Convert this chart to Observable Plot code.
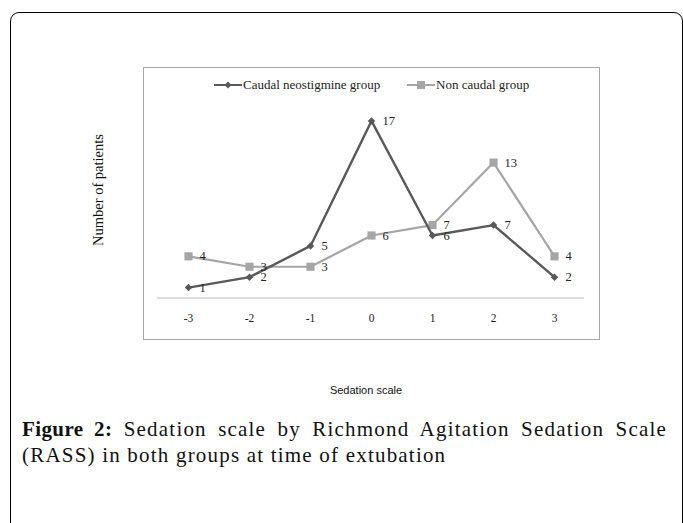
<!DOCTYPE html>
<html>
<head>
<meta charset="utf-8">
<script src="https://cdn.jsdelivr.net/npm/d3@7"></script>
<script src="https://cdn.jsdelivr.net/npm/@observablehq/plot@0.6"></script>
<style>
  html, body { margin: 0; padding: 0; background: #fff; width: 683px; height: 523px; overflow: hidden; position: relative; }
  #outer { position: absolute; left: 10px; top: 12px; width: 673px; height: 530px; border: 1.5px solid #000; border-radius: 9px; box-sizing: border-box; }
  #frame { position: absolute; left: 143px; top: 67px; width: 457px; height: 273px; border: 1.5px solid #a6a6a6; box-sizing: border-box; }
  #chart { position: absolute; left: 0; top: 0; }
  .lg { position: absolute; top: 76px; font-family: "Liberation Serif", serif; font-size: 13px; color: #222; display: flex; align-items: center; white-space: nowrap; }
  #ytitle { position: absolute; left: 98px; top: 190px; transform: translate(-50%, -50%) rotate(-90deg); font-family: "Liberation Serif", serif; font-size: 14.5px; color: #111; white-space: nowrap; }
  #xtitle { position: absolute; left: 366px; top: 390px; transform: translate(-50%, -50%); font-family: "Liberation Sans", Arial, sans-serif; font-size: 11px; color: #111; white-space: nowrap; }
  #caption { position: absolute; left: 22px; top: 416px; width: 645px; font-family: "Liberation Serif", serif; font-size: 21px; line-height: 26px; letter-spacing: 1.2px; text-align: justify; color: #111; }
  #caption b { font-weight: bold; letter-spacing: 0.4px; }
</style>
</head>
<body>
<div id="outer"></div>
<div id="frame"></div>
<div id="chart"></div>
<div id="ytitle"></div>
<div id="xtitle"></div>
<div id="caption"></div>
<script>
const xTicks = [-3, -2, -1, 0, 1, 2, 3];
const caudal = [1, 2, 5, 17, 6, 7, 2];
const nonCaudal = [4, 3, 3, 6, 7, 13, 4];
const seriesNames = ["Caudal neostigmine group", "Non caudal group"];
const seriesColors = ["#595959", "#a6a6a6"];
const seriesSymbols = ["diamond2", "square"];
const yTitle = "Number of patients";
const xTitle = "Sedation scale";
const captionBold = "Figure 2:";
const captionText = " Sedation scale by Richmond Agitation Sedation Scale (RASS) in both groups at time of extubation";

const rows = [];
xTicks.forEach((x, i) => {
  rows.push({x, y: caudal[i], s: seriesNames[0]});
  rows.push({x, y: nonCaudal[i], s: seriesNames[1]});
});

const chart = Plot.plot({
  width: 683,
  height: 410,
  marginLeft: 157,
  marginRight: 99,
  marginTop: 110,
  marginBottom: 112.5,
  style: {background: "transparent", fontFamily: "Liberation Serif, serif", fontSize: "11px", color: "#222"},
  x: {type: "point", domain: xTicks, padding: 0.5, axis: null},
  y: {domain: [0, 18], axis: null},
  color: {domain: seriesNames, range: seriesColors},
  symbol: {domain: seriesNames, range: seriesSymbols},
  marks: [
    Plot.ruleY([0], {stroke: "#d4d4d4", strokeWidth: 1.5}),
    Plot.axisX({tickSize: 0, tickPadding: 16, fontSize: 11.5, label: null, fill: "#222"}),
    Plot.line(rows.filter(d => d.s === seriesNames[1]), {x: "x", y: "y", stroke: "s", strokeWidth: 2.2}),
    Plot.dot(rows.filter(d => d.s === seriesNames[1]), {x: "x", y: "y", symbol: "s", fill: "s", r: 4.6}),
    Plot.line(rows.filter(d => d.s === seriesNames[0]), {x: "x", y: "y", stroke: "s", strokeWidth: 2.4}),
    Plot.dot(rows.filter(d => d.s === seriesNames[0]), {x: "x", y: "y", symbol: "s", fill: "s", r: 3.4}),
    Plot.text(rows, {x: "x", y: "y", text: d => String(d.y), dx: 11, textAnchor: "start", fontSize: 12.5, fill: "#222"})
  ]
});
document.getElementById("chart").appendChild(chart);

// legend
const legendX = [214, 407];
seriesNames.forEach((name, i) => {
  const div = document.createElement("div");
  div.className = "lg";
  div.style.left = legendX[i] + "px";
  const sym = seriesSymbols[i] === "square"
    ? `<rect x="10" y="5" width="8" height="8" fill="${seriesColors[i]}"/>`
    : `<path d="M14,5.5 L17.5,9 L14,12.5 L10.5,9 Z" fill="${seriesColors[i]}"/>`;
  div.innerHTML = `<svg width="28" height="18" style="display:block"><line x1="0" y1="9" x2="28" y2="9" stroke="${seriesColors[i]}" stroke-width="2"/>${sym}</svg><span style="margin-left:1px">${name}</span>`;
  document.body.appendChild(div);
});

document.getElementById("ytitle").textContent = yTitle;
document.getElementById("xtitle").textContent = xTitle;
document.getElementById("caption").innerHTML = `<b>${captionBold}</b>${captionText}`;
</script>
</body>
</html>
